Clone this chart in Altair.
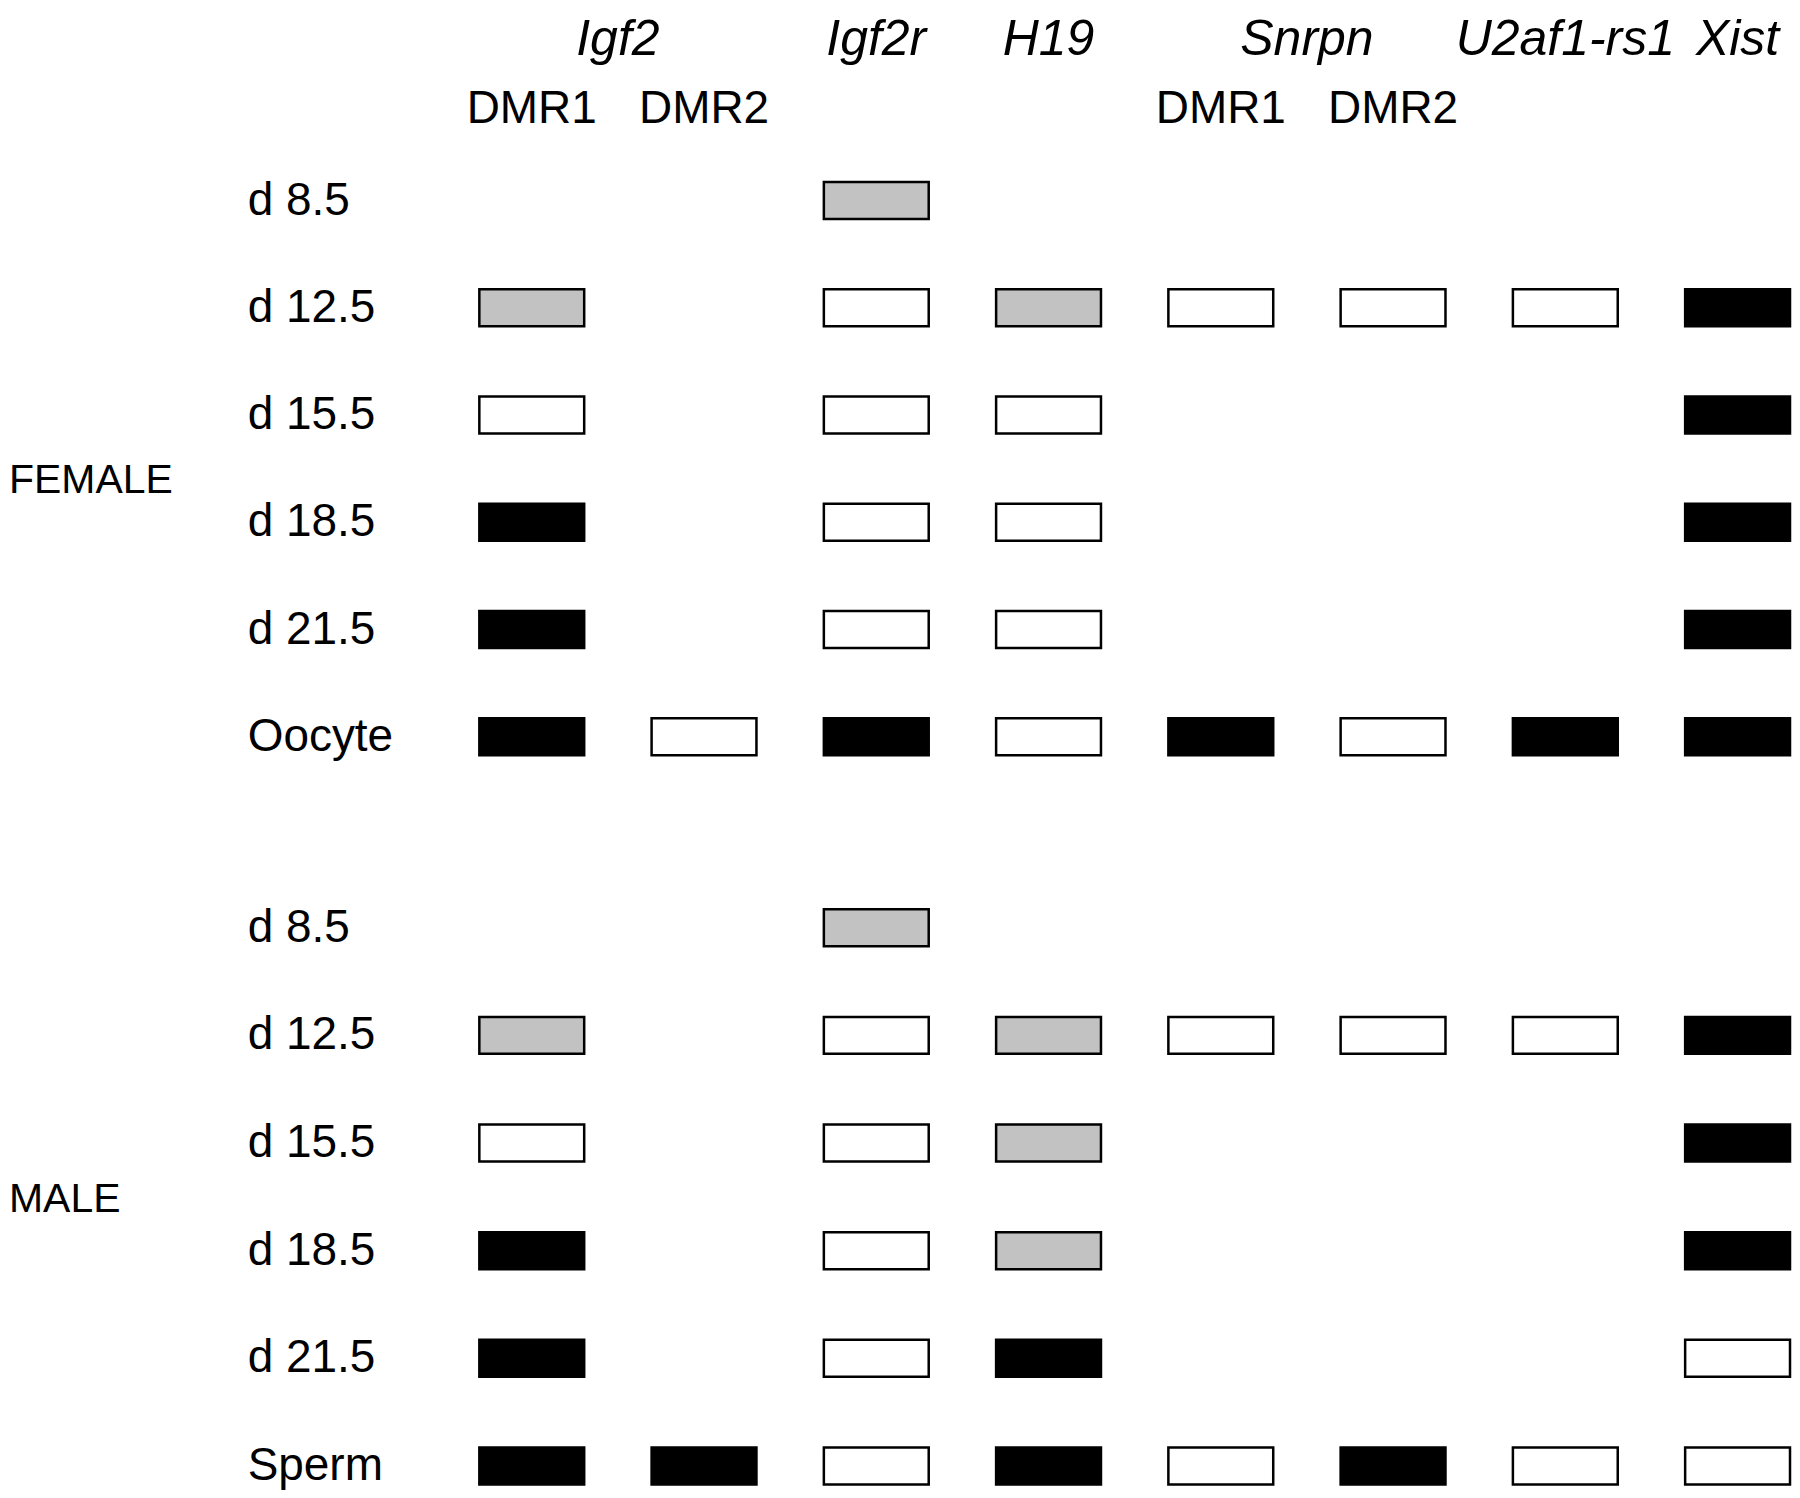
import altair as alt
import pandas as pd

# ---------------- data ----------------
columns = ["Igf2 DMR1", "Igf2 DMR2", "Igf2r", "H19",
           "Snrpn DMR1", "Snrpn DMR2", "U2af1-rs1", "Xist"]

gene_labels = ["Igf2", "Igf2r", "H19", "Snrpn", "U2af1-rs1", "Xist"]
gene_first_col = ["Igf2 DMR1", "Igf2r", "H19", "Snrpn DMR1", "U2af1-rs1", "Xist"]
gene_span = [2, 1, 1, 2, 1, 1]

region_labels = ["DMR1", "DMR2", "DMR1", "DMR2"]
region_cols = ["Igf2 DMR1", "Igf2 DMR2", "Snrpn DMR1", "Snrpn DMR2"]

# M = methylated (black), P = partial (grey), U = unmethylated (white), "" = not done
female_stages = ["d 8.5", "d 12.5", "d 15.5", "d 18.5", "d 21.5", "Oocyte"]
female_status = [
    ["",  "",  "P", "",  "",  "",  "",  ""],
    ["P", "",  "U", "P", "U", "U", "U", "M"],
    ["U", "",  "U", "U", "",  "",  "",  "M"],
    ["M", "",  "U", "U", "",  "",  "",  "M"],
    ["M", "",  "U", "U", "",  "",  "",  "M"],
    ["M", "U", "M", "U", "M", "U", "M", "M"],
]

male_stages = ["d 8.5", "d 12.5", "d 15.5", "d 18.5", "d 21.5", "Sperm"]
male_status = [
    ["",  "",  "P", "",  "",  "",  "",  ""],
    ["P", "",  "U", "P", "U", "U", "U", "M"],
    ["U", "",  "U", "P", "",  "",  "",  "M"],
    ["M", "",  "U", "P", "",  "",  "",  "M"],
    ["M", "",  "U", "M", "",  "",  "",  "U"],
    ["M", "M", "U", "M", "U", "M", "U", "U"],
]

status_codes = ["M", "P", "U"]
status_colors = ["#000000", "#c2c2c2", "#ffffff"]


def cells(stages, status):
    rows = []
    for stage, codes in zip(stages, status):
        for col, code in zip(columns, codes):
            if code:
                rows.append({"stage": stage, "column": col, "status": code})
    return pd.DataFrame(rows)


female_df = cells(female_stages, female_status)
male_df = cells(male_stages, male_status)
genes_df = pd.DataFrame({"label": gene_labels, "column": gene_first_col,
                         "span": gene_span, "level": "gene"})
regions_df = pd.DataFrame({"label": region_labels, "column": region_cols,
                           "level": "region"})

# ---------------- layout ----------------
FONT = "Liberation Sans"
STEP_X = 172.5
BOX_W = 105
BOX_H = 37
PI_X = 1 - BOX_W / STEP_X
PLOT_W = STEP_X * (len(columns) - PI_X)
LABEL_PAD = 232.5
TITLE_X = -471.5

x_scale = alt.Scale(type="band", domain=columns, paddingInner=PI_X, paddingOuter=0)
color_scale = alt.Scale(domain=status_codes, range=status_colors)

# header
HEADER_H = 68
hy = alt.Y("level:N", scale=alt.Scale(type="point", domain=["gene", "region"], padding=0), axis=None)
hx = alt.X("column:N", scale=x_scale, axis=None)

genes2 = alt.Chart(genes_df).transform_filter("datum.span == 2").mark_text(
    font=FONT, fontSize=50, fontStyle="italic", baseline="alphabetic",
    align="center", dx=STEP_X / 2, color="black"
).encode(x=hx, y=hy, text="label:N")
genes1 = alt.Chart(genes_df).transform_filter("datum.span == 1").mark_text(
    font=FONT, fontSize=50, fontStyle="italic", baseline="alphabetic",
    align="center", color="black"
).encode(x=hx, y=hy, text="label:N")
regions = alt.Chart(regions_df).mark_text(
    font=FONT, fontSize=46, baseline="alphabetic", align="center", color="black"
).encode(x=hx, y=hy, text="label:N")
header = alt.layer(genes2, genes1, regions).properties(width=PLOT_W, height=HEADER_H)


def panel(df, stages, title, height, step, align, title_y):
    pi = 1 - BOX_H / step
    po = (height / step - len(stages) + pi) / 2
    return alt.Chart(df).mark_rect(stroke="black", strokeWidth=2.5).encode(
        x=alt.X("column:N", scale=x_scale, axis=None),
        y=alt.Y("stage:N",
                scale=alt.Scale(type="band", domain=stages, paddingInner=pi,
                                paddingOuter=po, align=align),
                axis=alt.Axis(title=title, domain=False, ticks=False,
                              labelFont=FONT, labelFontSize=46, labelColor="black",
                              labelAlign="left", labelBaseline="middle",
                              labelPadding=LABEL_PAD,
                              titleFont=FONT, titleFontSize=41, titleFontWeight="normal",
                              titleColor="black", titleAngle=0, titleAlign="left",
                              titleBaseline="middle", titleX=TITLE_X, titleY=title_y)),
        color=alt.Color("status:N", scale=color_scale, legend=None),
    ).properties(width=PLOT_W, height=height)


female = panel(female_df, female_stages, "FEMALE", 700.8, 107.4, 0.3967, 348.8)
male = panel(male_df, male_stages, "MALE", 653.5, 107.8, 1, 368)

chart = alt.vconcat(header, female, male, spacing=0).resolve_scale(
    y="independent"
).properties(
    padding={"top": 6, "left": 0, "right": 0, "bottom": 0}
).configure_view(stroke=None)

chart.save("out.html", embed_options={"renderer": "svg", "actions": False})
